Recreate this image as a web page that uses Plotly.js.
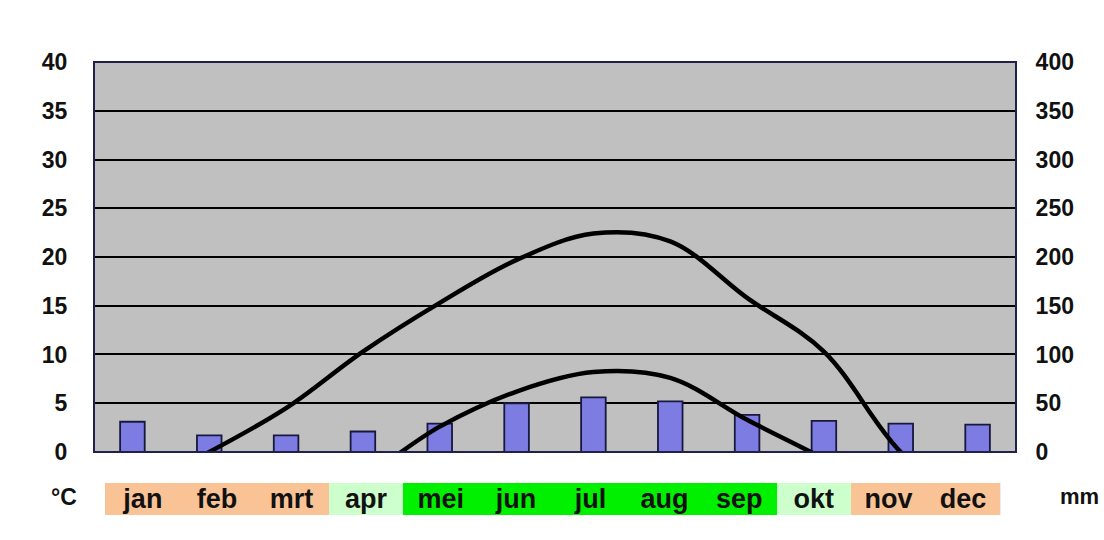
<!DOCTYPE html>
<html>
<head>
<meta charset="utf-8">
<script src="https://cdn.plot.ly/plotly-3.0.1.min.js"></script>
<style>html,body{margin:0;padding:0;background:#fff;}#chart{width:1104px;height:540px;}</style>
</head>
<body>
<div id="chart"></div>
<script>
// Data
var months = ['jan','feb','mrt','apr','mei','jun','jul','aug','sep','okt','nov','dec'];
var precipitation = [31, 17, 17, 21, 29, 50, 56, 52, 38, 32, 29, 28];   // mm (right axis)
var tempMax = [-4, 0, 4.5, 10.3, 15.3, 19.7, 22.4, 21.6, 15.8, 10.3, 0, -6]; // °C
var tempMin = [-8, -9, -5.5, -2.5, 2.6, 6.2, 8.2, 7.6, 3.3, -0.7, -5, -8]; // °C
var bandColors = ['#FAC396','#FAC396','#FAC396','#CCFFCC','#00F000','#00F000','#00F000','#00F000','#00F000','#CCFFCC','#FAC396','#FAC396'];
var bandHeight = months.map(function(){ return 1; });
var leftTicks = [0,5,10,15,20,25,30,35,40];
var rightTicks = [0,50,100,150,200,250,300,350,400];

var tickFont = {family: 'Liberation Sans, Arial, sans-serif', size: 23, color: '#111', weight: 'bold'};

var traces = [
  {
    type: 'bar', x: months, y: precipitation, xaxis: 'x', yaxis: 'y',
    width: 0.32,
    marker: {color: '#7C7CE2', line: {color: '#18183e', width: 1.8}},
    hoverinfo: 'skip', showlegend: false
  },
  {
    type: 'scatter', mode: 'lines', x: months, y: tempMax, xaxis: 'x', yaxis: 'y2',
    line: {color: '#000', width: 4.5, shape: 'spline', smoothing: 1},
    hoverinfo: 'skip', showlegend: false
  },
  {
    type: 'scatter', mode: 'lines', x: months, y: tempMin, xaxis: 'x', yaxis: 'y2',
    line: {color: '#000', width: 4.5, shape: 'spline', smoothing: 1},
    hoverinfo: 'skip', showlegend: false
  },
  {
    type: 'bar', x: months, y: bandHeight, xaxis: 'x2', yaxis: 'y3',
    width: 1,
    marker: {color: bandColors, line: {width: 0}},
    text: months, textposition: 'inside', insidetextanchor: 'middle',
    textfont: {family: 'Liberation Sans, Arial, sans-serif', size: 27, color: '#111', weight: 'bold'},
    constraintext: 'none',
    hoverinfo: 'skip', showlegend: false
  }
];

var layout = {
  width: 1104, height: 540,
  margin: {l: 94, r: 88, t: 62, b: 25, pad: 0},
  paper_bgcolor: '#ffffff',
  plot_bgcolor: '#C0C0C0',
  showlegend: false,
  bargap: 0,
  xaxis: {
    domain: [0, 1], anchor: 'y', type: 'category', categoryarray: months,
    range: [-0.5, 11.5], showticklabels: false, showgrid: false, zeroline: false,
    showline: false, ticks: ''
  },
  yaxis: {
    domain: [0.1391, 1], anchor: 'x', side: 'right', range: [0, 400],
    tickvals: rightTicks, ticktext: rightTicks.map(String),
    showgrid: true, gridcolor: '#000', gridwidth: 2, zeroline: false,
    showline: false, ticks: 'outside', ticklen: 14, tickcolor: 'rgba(0,0,0,0)',
    tickfont: tickFont
  },
  yaxis2: {
    overlaying: 'y', side: 'left', anchor: 'x', range: [0, 40],
    tickvals: leftTicks, ticktext: leftTicks.map(String),
    showgrid: false, zeroline: false, showline: false,
    ticks: 'outside', ticklen: 21, tickcolor: 'rgba(0,0,0,0)',
    tickfont: tickFont
  },
  xaxis2: {
    domain: [0.012, 0.983], anchor: 'y3', type: 'category', categoryarray: months,
    range: [-0.5, 11.5], visible: false
  },
  yaxis3: {
    domain: [0, 0.0706], anchor: 'x2', range: [0, 1], visible: false
  },
  shapes: [
    {type: 'rect', xref: 'x domain', yref: 'y domain', x0: 0, x1: 1, y0: 0, y1: 1,
     line: {color: '#20204a', width: 2}, fillcolor: 'rgba(0,0,0,0)', layer: 'above'}
  ],
  annotations: [
    {text: '°C', xref: 'paper', yref: 'paper', x: -0.032, y: 0.04, xanchor: 'center', yanchor: 'middle',
     showarrow: false, font: {family: 'Liberation Sans, Arial, sans-serif', size: 23, color: '#111', weight: 'bold'}},
    {text: 'mm', xref: 'paper', yref: 'paper', x: 1.069, y: 0.04, xanchor: 'center', yanchor: 'middle',
     showarrow: false, font: {family: 'Liberation Sans, Arial, sans-serif', size: 22, color: '#111', weight: 'bold'}}
  ]
};

Plotly.newPlot('chart', traces, layout, {staticPlot: true, displayModeBar: false});
</script>
</body>
</html>
